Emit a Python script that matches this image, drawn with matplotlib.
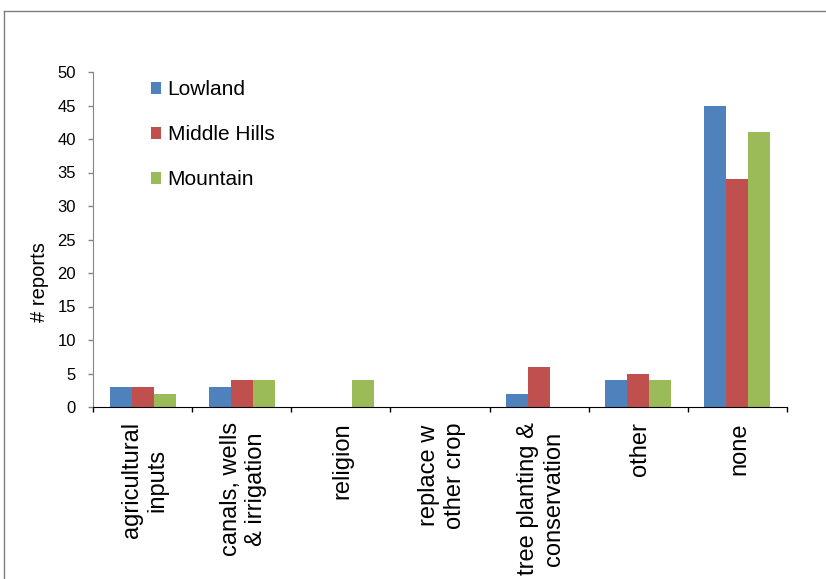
import matplotlib
matplotlib.use("Agg")
import matplotlib.pyplot as plt
import numpy as np
from matplotlib.lines import Line2D

plt.rcParams['font.family'] = ['Liberation Sans', 'DejaVu Sans']

categories = [
    "agricultural\ninputs",
    "canals, wells\n& irrigation",
    "religion",
    "replace w\nother crop",
    "tree planting &\nconservation",
    "other",
    "none",
]
lowland = [3, 3, 0, 0, 2, 4, 45]
middle_hills = [3, 4, 0, 0, 6, 5, 34]
mountain = [2, 4, 4, 0, 0, 4, 41]
series_names = ["Lowland", "Middle Hills", "Mountain"]
colors = ["#4F81BD", "#C0504D", "#9BBB59"]

W, H = 826, 579
fig = plt.figure(figsize=(W / 100, H / 100), dpi=100)
ax = fig.add_axes([93 / W, 1 - 407 / H, (787 - 93) / W, (407 - 72) / H])

x = np.arange(len(categories))
bw = 0.222
for i, (vals, name, c) in enumerate(zip([lowland, middle_hills, mountain], series_names, colors)):
    ax.bar(x + (i - 1) * bw, vals, width=bw, color=c, label=name, linewidth=0)

ax.set_xlim(-0.5, len(categories) - 0.5)
ax.set_ylim(0, 50)
ax.set_yticks(np.arange(0, 51, 5))
ax.tick_params(axis='y', direction='out', length=3.6, width=1, color='#868686',
               labelsize=12, pad=8.6)

# category boundaries as tick marks, labels centred in each slot
ax.set_xticks(np.arange(-0.5, len(categories), 1.0))
ax.set_xticklabels([])
ax.tick_params(axis='x', direction='out', length=3.6, width=1, color='black')
for xi, lab in zip(x, categories):
    ax.text(xi + 0.02, -0.045, lab, transform=ax.get_xaxis_transform(), rotation=90,
            ha='center', va='top', multialignment='center', fontsize=17,
            linespacing=1.2)

for s in ['top', 'right']:
    ax.spines[s].set_visible(False)
ax.spines['left'].set_color('#868686')
ax.spines['bottom'].set_color('black')

ax.set_ylabel("# reports", fontsize=14.5)
ax.yaxis.set_label_coords(-0.064, 0.373)

ax.legend(loc='upper left', bbox_to_anchor=(0.0836, 0.975), frameon=False,
          fontsize=15, handlelength=0.5, handleheight=0.5, handletextpad=0.3,
          labelspacing=1.24, borderpad=0, borderaxespad=0)

# outer chart frame
fig.add_artist(Line2D([3.5 / W, 1.0], [1 - 10.5 / H, 1 - 10.5 / H],
                      transform=fig.transFigure, color='#7f7f7f', linewidth=1))
fig.add_artist(Line2D([3.5 / W, 3.5 / W], [0.0, 1 - 10.5 / H],
                      transform=fig.transFigure, color='#7f7f7f', linewidth=1))

fig.savefig("out.png", dpi=100)
